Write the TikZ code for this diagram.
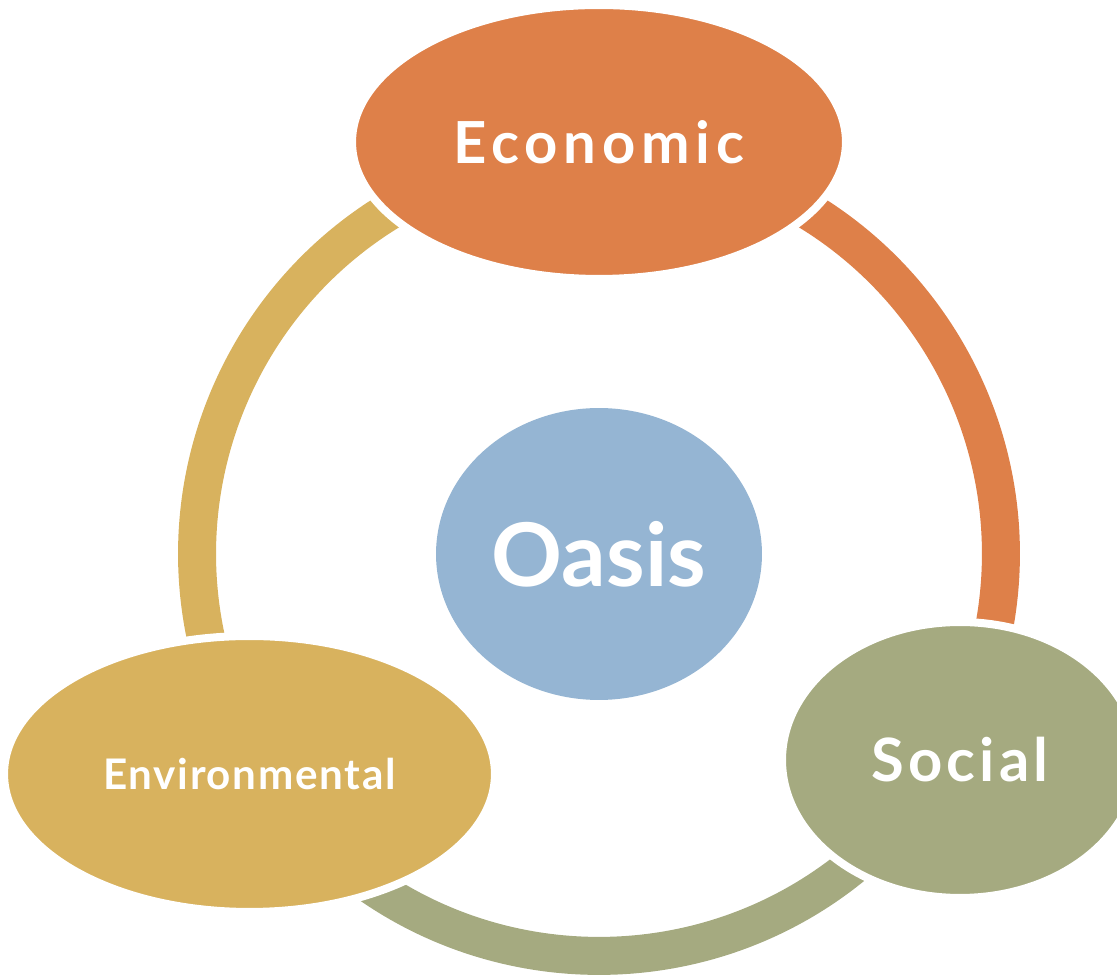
\documentclass[tikz,border=0pt]{standalone}
\usepackage{fontspec}
\setmainfont{Lato}
\usetikzlibrary{shapes.geometric}

\definecolor{econorange}{RGB}{222,128,73}
\definecolor{envyellow}{RGB}{216,178,94}
\definecolor{socgreen}{RGB}{165,170,128}
\definecolor{oasisblue}{RGB}{149,181,211}

\begin{document}
\begin{tikzpicture}[
    x=0.02cm, y=0.02cm,
    ring/.style={line width=0.76cm},
    blob/.style={ellipse, draw=white, line width=0.16cm, inner sep=0pt, text=white, font=\bfseries}
  ]
    \useasboundingbox (0,0) rectangle (1117,977);
    \clip (0,0) rectangle (1117,977);
    \coordinate (hub) at (599,423);
    % ring segments
    \draw[ring, econorange] ([shift={(70:8.04cm)}]hub) arc (70:-10.3:8.04cm);
    \draw[ring, envyellow] ([shift={(192:8.04cm)}]hub) arc (192:112:8.04cm);
    \draw[ring, socgreen] ([shift={(-45:8.04cm)}]hub) arc (-45:-135:8.04cm);
    % ellipses
    \node[blob, fill=econorange, minimum width=9.88cm, minimum height=5.48cm] (econ) at (599,835) {\fontsize{33}{40}\selectfont\addfontfeature{LetterSpace=10}Economic};
    \node[blob, fill=socgreen, minimum width=7.12cm, minimum height=5.52cm] (social) at (960,217) {\fontsize{34}{40}\selectfont\addfontfeature{LetterSpace=7}Social};
    \node[blob, fill=envyellow, minimum width=9.82cm, minimum height=5.52cm] (env) at (249.5,203) {\fontsize{24}{30}\selectfont\addfontfeature{LetterSpace=4}Environmental};
    \node[blob, draw=none, fill=oasisblue, minimum width=6.52cm, minimum height=5.84cm] (oasis) at (hub) {\fontsize{50}{60}\selectfont Oasis};
  \end{tikzpicture}
\end{document}
